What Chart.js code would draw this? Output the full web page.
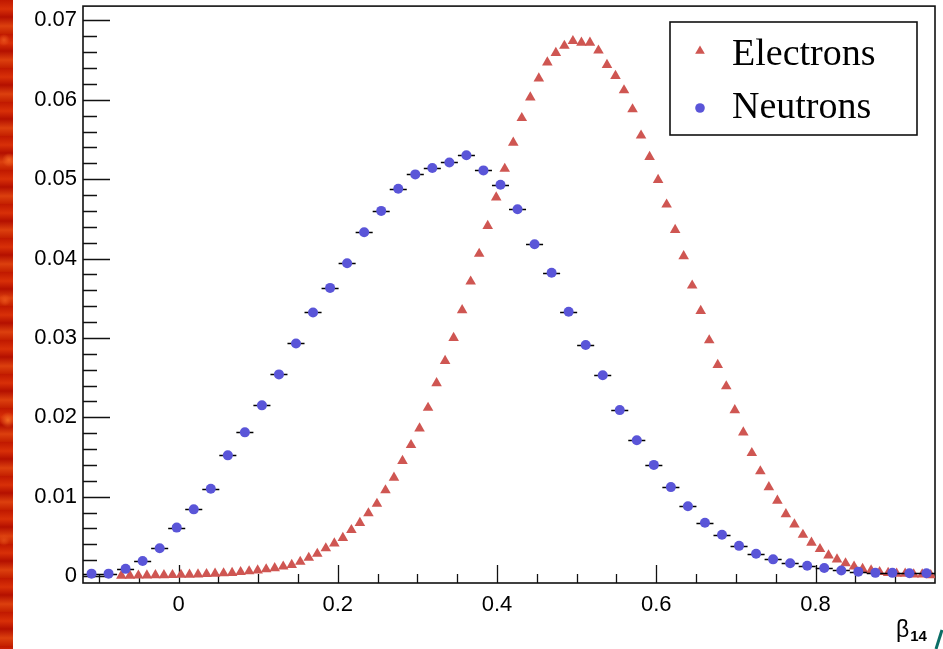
<!DOCTYPE html>
<html>
<head>
<meta charset="utf-8">
<script src="https://cdn.jsdelivr.net/npm/chart.js@4.4.1/dist/chart.umd.min.js"></script>
<style>
html,body{margin:0;padding:0;background:#fff;}
#wrap{position:relative;width:943px;height:649px;overflow:hidden;background:#fff;}
#strip{position:absolute;left:0;top:0;width:13px;height:649px;
  background:
   radial-gradient(circle at 4px 40px,#e8501a 0,transparent 6px),
   radial-gradient(circle at 9px 160px,#f06020 0,transparent 7px),
   radial-gradient(circle at 5px 300px,#e85018 0,transparent 6px),
   radial-gradient(circle at 8px 420px,#f26a22 0,transparent 8px),
   radial-gradient(circle at 4px 540px,#e04814 0,transparent 6px),
   repeating-linear-gradient(180deg,#c01800 0px,#d83008 9px,#b41000 17px,#dc400e 26px,#c42000 34px);}
#c{position:absolute;left:0;top:0;}
#xt{position:absolute;left:896px;top:614px;font-family:"Liberation Sans",Arial,sans-serif;font-size:23px;color:#000;line-height:30px;white-space:nowrap;}
#xt sub{font-size:15px;font-weight:bold;vertical-align:-4px;margin-left:1px;}
#deco{position:absolute;left:934px;top:626px;}
</style>
</head>
<body>
<div id="wrap">
  <div id="strip"></div>
  <canvas id="c" width="943" height="649"></canvas>
  <div id="xt">β<sub>14</sub></div>
  <svg id="deco" width="9" height="23"><line x1="2" y1="23" x2="8" y2="4" stroke="#0b6e66" stroke-width="3"/></svg>
</div>
<script>
// ---- data ----
const xMin = -0.12, xMax = 0.95;
const electronBins = 100;
const neutronBins = 50;
const electrons = [
  null, null, null, null, 0.00005, 0.00005, 0.00006, 0.00008, 0.0001, 0.0001,
  0.00012, 0.00015, 0.00018, 0.0002, 0.00025, 0.0003, 0.00035, 0.0004, 0.0005, 0.0006,
  0.0007, 0.00085, 0.001, 0.0012, 0.0014, 0.0018, 0.0023, 0.0028, 0.0035, 0.0041,
  0.0048, 0.0058, 0.0067, 0.0079, 0.0091, 0.0108, 0.0124, 0.0145, 0.0165, 0.0186,
  0.0212, 0.0243, 0.0271, 0.0300, 0.0335, 0.0371, 0.0406, 0.0441, 0.0477, 0.0513,
  0.0546, 0.0577, 0.0603, 0.0627, 0.0647, 0.0659, 0.0668, 0.0674, 0.0672, 0.0672,
  0.0662, 0.0644, 0.0630, 0.0612, 0.0588, 0.0555, 0.0528, 0.0499, 0.0468, 0.0436,
  0.0403, 0.0366, 0.0334, 0.0297, 0.0266, 0.0239, 0.0209, 0.0181, 0.0155, 0.0132,
  0.0112, 0.0095, 0.0078, 0.0065, 0.0052, 0.0042, 0.0034, 0.0026, 0.0021, 0.0016,
  0.0012, 0.0009, 0.0007, 0.0005, 0.0004, 0.0003, 0.0003, 0.0002, 0.0002, 0.0001
];
const neutrons = [
  0.0003, 0.0003, 0.0009, 0.0019, 0.0035, 0.0061, 0.0084, 0.0110, 0.0152, 0.0181,
  0.0215, 0.0254, 0.0293, 0.0332, 0.0363, 0.0394, 0.0433, 0.0460, 0.0488, 0.0506,
  0.0514, 0.0521, 0.0530, 0.0511, 0.0493, 0.0462, 0.0418, 0.0382, 0.0333, 0.0291,
  0.0253, 0.0209, 0.0171, 0.0140, 0.0112, 0.0088, 0.0067, 0.0052, 0.0038, 0.0028,
  0.0021, 0.0016, 0.0013, 0.0010, 0.0007, 0.00055, 0.0004, 0.0004, 0.00034, 0.00034
];
const seriesNames = ['Electrons', 'Neutrons'];
const yTicks = [0, 0.01, 0.02, 0.03, 0.04, 0.05, 0.06, 0.07];
const yTickLabels = ['0', '0.01', '0.02', '0.03', '0.04', '0.05', '0.06', '0.07'];
const xTicks = [0, 0.2, 0.4, 0.6, 0.8];
const xTickLabels = ['0', '0.2', '0.4', '0.6', '0.8'];
const yMinorStep = 0.002;
const xMinorStep = 0.05;
const yMin = -0.00088, yMax = 0.0718;

// ---- build points from bins ----
function binPoints(vals, nb) {
  const w = (xMax - xMin) / nb;
  const pts = [];
  vals.forEach((v, i) => { if (v !== null) pts.push({x: xMin + w * (i + 0.5), y: v}); });
  return pts;
}

const tickPlugin = {
  id: 'rootFrame',
  beforeDatasetsDraw(chart) {
    const {ctx, chartArea: a, scales: {x, y}} = chart;
    ctx.save();
    ctx.strokeStyle = '#111';
    ctx.lineWidth = 1.3;
    ctx.beginPath();
    yTicks.forEach(v => { const p = Math.round(y.getPixelForValue(v)) + 0.5; ctx.moveTo(a.left, p); ctx.lineTo(a.left + 27, p); });
    for (let k = 0; ; k++) {
      const v = k * yMinorStep; if (v > yMax) break;
      if (k % 5 === 0) continue;
      const p = Math.round(y.getPixelForValue(v)) + 0.5; ctx.moveTo(a.left, p); ctx.lineTo(a.left + 14, p);
    }
    xTicks.forEach(v => { const p = Math.round(x.getPixelForValue(v)) + 0.5; ctx.moveTo(p, a.bottom); ctx.lineTo(p, a.bottom - 18); });
    for (let k = Math.ceil(xMin / xMinorStep); ; k++) {
      const v = k * xMinorStep; if (v > xMax) break;
      if (k % 4 === 0) continue;
      const p = Math.round(x.getPixelForValue(v)) + 0.5; ctx.moveTo(p, a.bottom); ctx.lineTo(p, a.bottom - 9);
    }
    ctx.stroke();
    ctx.lineWidth = 1.6;
    ctx.strokeRect(a.left, a.top, a.right - a.left, a.bottom - a.top);
    ctx.restore();
  },
  beforeDatasetDraw(chart, args) {
    const ds = chart.data.datasets[args.index];
    if (!ds.binWidth) return;
    const {ctx, scales: {x, y}} = chart;
    ctx.save();
    ctx.strokeStyle = '#000';
    ctx.lineWidth = 1.4;
    ctx.beginPath();
    ds.data.forEach(p => {
      const py = Math.round(y.getPixelForValue(p.y)) + 0.5;
      ctx.moveTo(x.getPixelForValue(p.x - ds.binWidth / 2), py);
      ctx.lineTo(x.getPixelForValue(p.x + ds.binWidth / 2), py);
    });
    ctx.stroke();
    ctx.restore();
  },
  afterDraw(chart) {
    const {ctx} = chart;
    ctx.save();
    ctx.fillStyle = '#fff';
    ctx.fillRect(670, 22, 247, 113);
    ctx.strokeStyle = '#111';
    ctx.lineWidth = 1.6;
    ctx.strokeRect(670, 22, 247, 113);
    const rows = [{my: 51, ty: 65}, {my: 108, ty: 118}];
    chart.data.datasets.forEach((ds, i) => {
      ctx.fillStyle = ds.backgroundColor;
      ctx.strokeStyle = ds.backgroundColor;
      Chart.helpers.drawPoint(ctx, {pointStyle: ds.pointStyle, radius: ds.legendRadius, rotation: 0, borderWidth: 0}, 700, rows[i].my);
      ctx.fillStyle = '#000';
      ctx.font = '38px "Liberation Serif", "Times New Roman", serif';
      ctx.textBaseline = 'alphabetic';
      ctx.textAlign = 'left';
      ctx.fillText(ds.label, 732, rows[i].ty);
    });
    ctx.restore();
  }
};

const tickFont = {family: '"Liberation Sans", Arial, sans-serif', size: 22};

new Chart(document.getElementById('c'), {
  type: 'scatter',
  data: {
    datasets: [
      {label: seriesNames[0], data: binPoints(electrons, electronBins), pointStyle: 'triangle', pointRadius: 6.1,
       legendRadius: 5.6, backgroundColor: '#cf5652', borderColor: '#cf5652', borderWidth: 0, order: 2},
      {label: seriesNames[1], data: binPoints(neutrons, neutronBins), pointStyle: 'circle', pointRadius: 5,
       legendRadius: 4.8, backgroundColor: '#5a55d8', borderColor: '#5a55d8', borderWidth: 0, order: 1,
       binWidth: (xMax - xMin) / neutronBins}
    ]
  },
  options: {
    responsive: false,
    animation: false,
    devicePixelRatio: 1,
    layout: {padding: {top: 5, right: 8, left: 0, bottom: 0}},
    plugins: {legend: {display: false}, tooltip: {enabled: false}},
    scales: {
      x: {
        type: 'linear', min: xMin, max: xMax,
        grid: {display: false, drawTicks: false}, border: {display: false},
        afterBuildTicks: s => { s.ticks = xTicks.map(v => ({value: v})); },
        afterFit: s => { s.height = 66; s.paddingLeft = 0; s.paddingRight = 0; },
        ticks: {font: tickFont, color: '#000', padding: 9, maxRotation: 0, autoSkip: false,
                callback: (v, i) => xTickLabels[i]}
      },
      y: {
        type: 'linear', min: yMin, max: yMax,
        grid: {display: false, drawTicks: false}, border: {display: false},
        afterBuildTicks: s => { s.ticks = yTicks.map(v => ({value: v})); },
        afterFit: s => { s.width = 83; s.paddingTop = 0; s.paddingBottom = 0; },
        ticks: {font: tickFont, color: '#000', padding: 6, autoSkip: false,
                callback: (v, i) => yTickLabels[i]}
      }
    }
  },
  plugins: [tickPlugin]
});
</script>
</body>
</html>
